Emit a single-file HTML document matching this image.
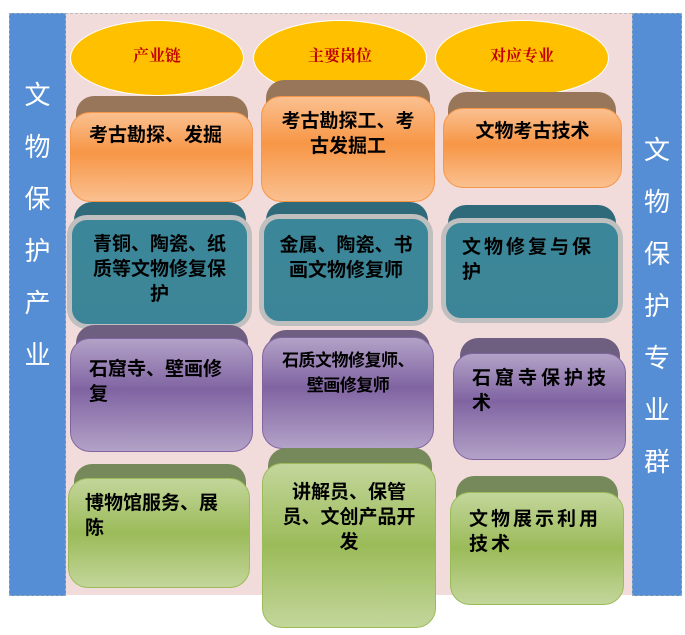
<!DOCTYPE html>
<html><head><meta charset="utf-8"><style>
body{margin:0;width:685px;height:635px;background:#fff;position:relative;overflow:hidden;font-family:"Liberation Sans","Noto Sans CJK SC",sans-serif;}
.a{position:absolute;}
.bar{background:#558ed5;color:#fff;font-size:26px;text-align:center;line-height:1;border:1px dashed #9ab;}
.ell{background:#ffc000;border:1px solid #fff;border-radius:50%;color:#c00000;font-family:"Liberation Serif","Noto Serif CJK SC",serif;font-weight:bold;font-size:16px;text-align:center;line-height:72px;}
.cap{border-radius:18px 18px 0 0;}
.box{border-radius:20px;font-weight:bold;font-size:19px;line-height:25px;color:#000;box-sizing:border-box;padding:8px 12px;white-space:nowrap;}
.o{background:linear-gradient(#fac090,#f79646 45%,#fac090);border:1.5px solid #f79646;}
.t{background:linear-gradient(#3b8799,#3c8598);border:5px solid #bfbfbf;}
.p{background:linear-gradient(#b3a2c7,#8064a2 45%,#b3a2c7);border:1.5px solid #8064a2;}
.g{background:linear-gradient(#c3d69b,#9bbb59 50%,#c3d69b);border:1.5px solid #9bbb59;}
.c{text-align:center;}
</style></head><body>
<div class="a" style="left:65px;top:13px;width:567px;height:581px;background:#f2dcdb;border-top:1px dashed #bbb;"></div>
<div class="a bar" style="left:9px;top:13px;width:55px;height:581px;"><div style="padding-top:55px;line-height:52px;">文<br>物<br>保<br>护<br>产<br>业</div></div>
<div class="a bar" style="left:632px;top:13px;width:48px;height:581px;"><div style="padding-top:110px;line-height:52px;">文<br>物<br>保<br>护<br>专<br>业<br>群</div></div>

<div class="a ell" style="left:70px;top:20px;width:172px;height:74px;">产业链</div>
<div class="a ell" style="left:253px;top:20px;width:172px;height:74px;">主要岗位</div>
<div class="a ell" style="left:435px;top:20px;width:172px;height:74px;">对应专业</div>

<!-- row1 -->
<div class="a cap" style="left:76px;top:96px;width:172px;height:30px;background:#977659;"></div>
<div class="a box o" style="left:70px;top:112px;width:183px;height:90px;padding:10px 18px;">考古勘探、发掘</div>
<div class="a cap" style="left:266px;top:80px;width:164px;height:30px;background:#977659;"></div>
<div class="a box o c" style="left:261px;top:96px;width:174px;height:106px;padding:12px 0;">考古勘探工、考<br>古发掘工</div>
<div class="a cap" style="left:448px;top:92px;width:168px;height:30px;background:#977659;"></div>
<div class="a box o c" style="left:443px;top:108px;width:179px;height:80px;padding:10px 0;">文物考古技术</div>

<!-- row2 -->
<div class="a cap" style="left:74px;top:202px;width:172px;height:30px;background:#2e6a7a;"></div>
<div class="a box t c" style="left:67px;top:215px;width:185px;height:114px;padding:12px 0;">青铜、陶瓷、纸<br>质等文物修复保<br>护</div>
<div class="a cap" style="left:266px;top:202px;width:162px;height:30px;background:#2e6a7a;"></div>
<div class="a box t c" style="left:259px;top:214px;width:174px;height:112px;padding:14px 0;">金属、陶瓷、书<br>画文物修复师</div>
<div class="a cap" style="left:448px;top:205px;width:168px;height:30px;background:#2e6a7a;"></div>
<div class="a box t" style="left:441px;top:218px;width:182px;height:105px;padding:12px 16px;letter-spacing:3px;">文物修复与保<br>护</div>

<!-- row3 -->
<div class="a cap" style="left:76px;top:325px;width:172px;height:30px;background:#6e5e80;"></div>
<div class="a box p" style="left:70px;top:338px;width:183px;height:114px;padding:18px 18px;">石窟寺、壁画修<br>复</div>
<div class="a cap" style="left:268px;top:330px;width:162px;height:25px;background:#6e5e80;"></div>
<div class="a box p c" style="left:262px;top:337px;width:172px;height:112px;font-size:17px;padding:10px 0;letter-spacing:-0.5px;">石质文物修复师、<br>壁画修复师</div>
<div class="a cap" style="left:460px;top:338px;width:160px;height:30px;background:#6e5e80;"></div>
<div class="a box p" style="left:453px;top:353px;width:173px;height:107px;padding:12px 18px;letter-spacing:4px;">石窟寺保护技<br>术</div>

<!-- row4 -->
<div class="a cap" style="left:74px;top:464px;width:172px;height:30px;background:#76895a;"></div>
<div class="a box g" style="left:68px;top:478px;width:182px;height:110px;padding:12px 16px;">博物馆服务、展<br>陈</div>
<div class="a cap" style="left:268px;top:448px;width:164px;height:30px;background:#76895a;"></div>
<div class="a box g c" style="left:262px;top:463px;width:174px;height:165px;padding:16px 0;">讲解员、保管<br>员、文创产品开<br>发</div>
<div class="a cap" style="left:456px;top:476px;width:162px;height:30px;background:#76895a;"></div>
<div class="a box g" style="left:450px;top:492px;width:174px;height:113px;padding:14px 18px;letter-spacing:3px;">文物展示利用<br>技术</div>
</body></html>
